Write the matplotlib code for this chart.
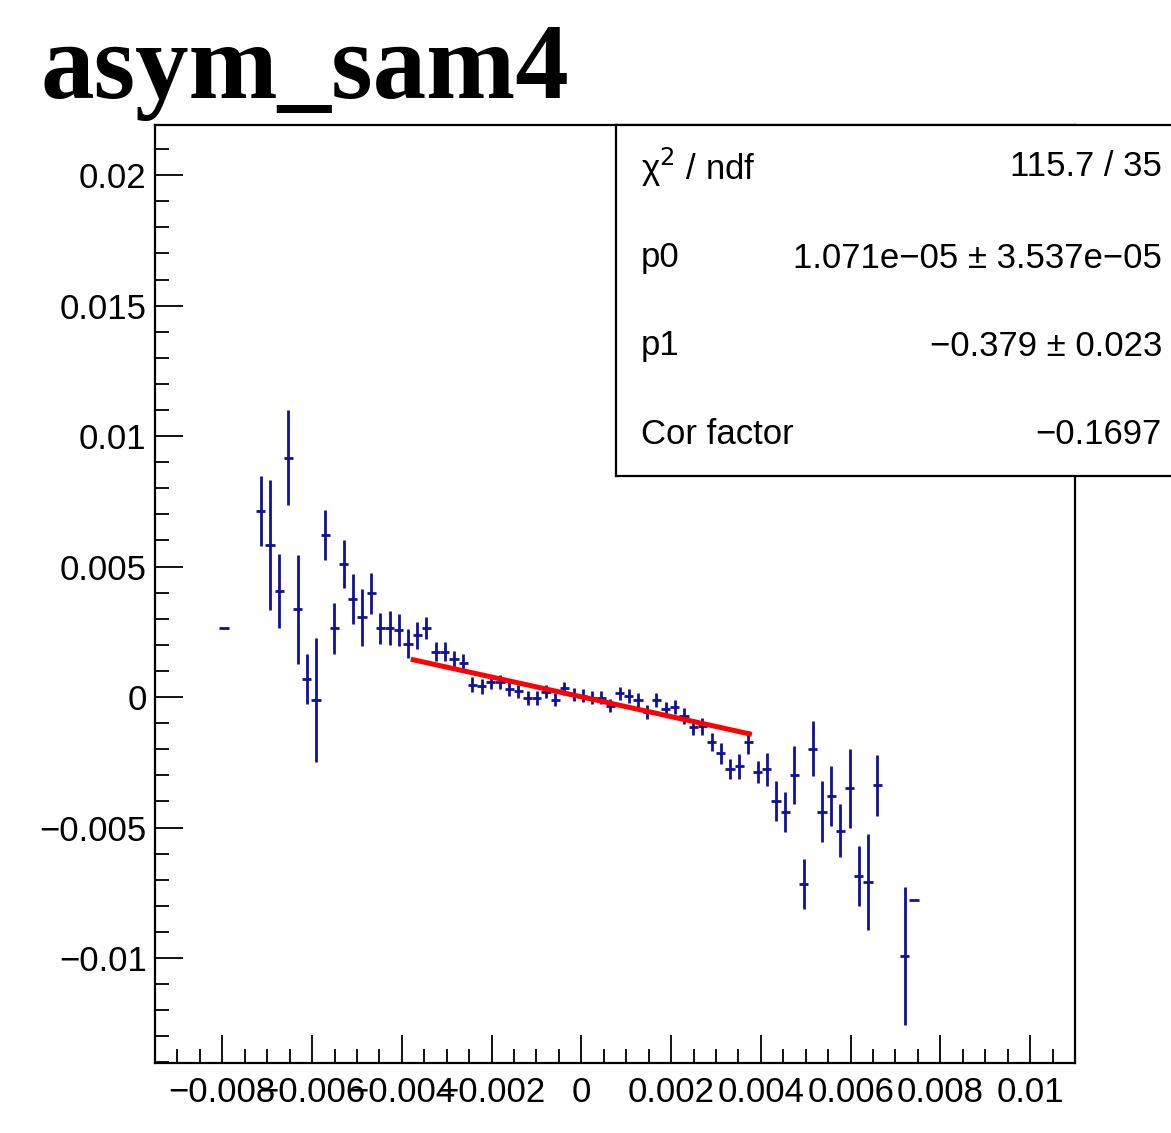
import numpy as np
import matplotlib
matplotlib.use("Agg")
import matplotlib.pyplot as plt
from matplotlib.ticker import MultipleLocator, FixedLocator

# histogram binning (100 bins) and filled bins
x_lo, x_hi, n_bins = -0.0095, 0.011, 100
bin_idx = [7, 11, 12, 13, 14, 15, 16, 17, 18, 19, 20, 21, 22, 23, 24, 25, 26, 27, 28,
           29, 30, 31, 32, 33, 34, 35, 36, 37, 38, 39, 40, 41, 42, 43, 44, 45, 46, 47,
           48, 49, 50, 51, 52, 53, 54, 55, 56, 57, 58, 59, 60, 61, 62, 63, 64, 65, 66,
           67, 68, 69, 70, 71, 72, 73, 74, 75, 76, 77, 78, 81, 82]
asym = [0.00263, 0.00714, 0.00581, 0.00407, 0.00918, 0.00336, 0.00070, -0.00012,
        0.00622, 0.00263, 0.00510, 0.00377, 0.00305, 0.00397, 0.00263, 0.00263,
        0.00257, 0.00205, 0.00236, 0.00265, 0.00174, 0.00174, 0.00145, 0.00132,
        0.00048, 0.00042, 0.00058, 0.00058, 0.00031, 0.00022, -0.00004, -0.00004,
        0.00020, -0.00011, 0.00033, 0.00009, 0.00006, -0.00003, -0.00002, -0.00033,
        0.00014, 0.00005, -0.00010, -0.00058, -0.00011, -0.00045, -0.00038, -0.00073,
        -0.00114, -0.00112, -0.00172, -0.00216, -0.00274, -0.00265, -0.00173, -0.00286,
        -0.00277, -0.00398, -0.00440, -0.00299, -0.00716, -0.00197, -0.00440, -0.00379,
        -0.00512, -0.00350, -0.00686, -0.00708, -0.00337, -0.00992, -0.00778]
asym_err = [0.0, 0.00135, 0.00249, 0.00142, 0.00183, 0.00208, 0.00095, 0.00238,
            0.00096, 0.00096, 0.00091, 0.00096, 0.00110, 0.00080, 0.00060, 0.00065,
            0.00060, 0.00055, 0.00050, 0.00042, 0.00036, 0.00036, 0.00033, 0.00033,
            0.00029, 0.00029, 0.00027, 0.00027, 0.00026, 0.00026, 0.00026, 0.00026,
            0.00025, 0.00025, 0.00025, 0.00025, 0.00025, 0.00025, 0.00026, 0.00026,
            0.00026, 0.00026, 0.00027, 0.00027, 0.00027, 0.00028, 0.00028, 0.00030,
            0.00031, 0.00032, 0.00035, 0.00040, 0.00038, 0.00048, 0.00044, 0.00043,
            0.00064, 0.00075, 0.00075, 0.00110, 0.00096, 0.00106, 0.00117, 0.00116,
            0.00101, 0.00152, 0.00116, 0.00183, 0.00117, 0.00264, 0.0]

# linear fit result
p0, p1 = 1.071e-05, -0.379
fit_range = [-0.0038, 0.0038]

stat_labels = ["\u03c7$^{2}$ / ndf", "p0", "p1", "Cor factor"]
stat_values = ["115.7 / 35", "1.071e\u221205 \u00b1 3.537e\u221205",
               "\u22120.379 \u00b1 0.023", "\u22120.1697"]

x_ticks = [-0.008, -0.006, -0.004, -0.002, 0, 0.002, 0.004, 0.006, 0.008, 0.01]
x_tick_labels = ["\u22120.008", "\u22120.006", "\u22120.004", "\u22120.002", "0",
                 "0.002", "0.004", "0.006", "0.008", "0.01"]
y_ticks = [-0.01, -0.005, 0, 0.005, 0.01, 0.015, 0.02]
y_tick_labels = ["\u22120.01", "\u22120.005", "0", "0.005", "0.01", "0.015", "0.02"]

W, H = 1171, 1133
fig = plt.figure(figsize=(W / 100, H / 100), dpi=100)
ax = fig.add_axes([155 / W, (H - 1063) / H, (1075 - 155) / W, (1063 - 125) / H])

width = (x_hi - x_lo) / n_bins
xc = x_lo + (np.array(bin_idx) + 0.5) * width
ax.errorbar(xc, asym, xerr=width / 2, yerr=asym_err, fmt="none",
            ecolor="#10109a", elinewidth=2.0, capsize=0, zorder=2)

fx = np.array(fit_range)
ax.plot(fx, p0 + p1 * fx, color="#ff0000", lw=3.6, zorder=3, solid_capstyle="butt")

ax.set_xlim(x_lo, x_hi)
ax.set_ylim(-0.01402, 0.02192)

lab_font = {"family": "Liberation Sans", "size": 25}
ax.xaxis.set_major_locator(FixedLocator(x_ticks))
ax.set_xticklabels(x_tick_labels, fontdict=lab_font)
ax.xaxis.set_minor_locator(MultipleLocator(0.0005))
ax.yaxis.set_major_locator(FixedLocator(y_ticks))
ax.set_yticklabels(y_tick_labels, fontdict=lab_font)
ax.yaxis.set_minor_locator(MultipleLocator(0.001))
ax.tick_params(which="both", direction="in", top=False, right=False, width=1.3)
ax.tick_params(which="major", length=20)
ax.tick_params(axis="y", which="major", pad=6)
ax.tick_params(axis="x", which="major", pad=9)
ax.tick_params(which="minor", length=10)
for s in ax.spines.values():
    s.set_linewidth(1.6)

fig.text(40 / W, 1 - 98 / H, "asym_sam4", family="Liberation Serif",
         weight="bold", fontsize=77, ha="left", va="baseline")

# stats box
box_w = (W - 616) / W + 0.02
sb = fig.add_axes([616 / W, (H - 476) / H, box_w, (476 - 125) / H], zorder=5)
sb.set_facecolor("white")
sb.set_xticks([])
sb.set_yticks([])
sb.set_xlim(0, 1)
sb.set_ylim(476, 125)
for s in sb.spines.values():
    s.set_linewidth(1.6)
row_y = [167, 258, 346, 435]
for yy, lab, val in zip(row_y, stat_labels, stat_values):
    sb.text(25 / (box_w * W), yy, lab, family="Liberation Sans", fontsize=25,
            ha="left", va="center")
    sb.text((1162 - 616) / (box_w * W), yy, val, family="Liberation Sans",
            fontsize=25, ha="right", va="center")

fig.savefig("out.png", dpi=100)
